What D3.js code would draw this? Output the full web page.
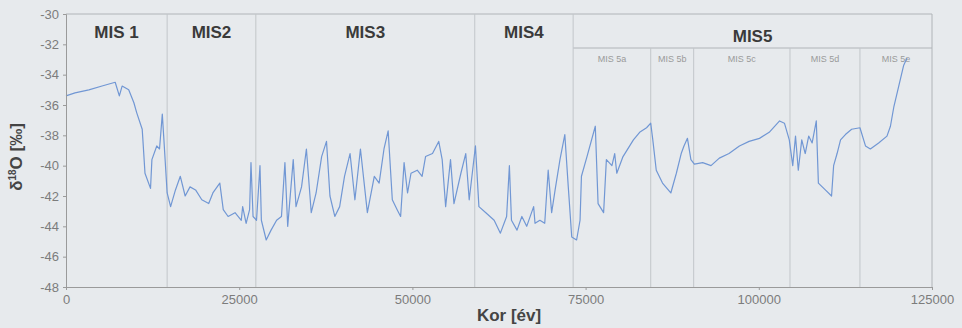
<!DOCTYPE html>
<html lang="hu">
<head>
  <meta charset="UTF-8">
  <title>NGRIP δ18O – MIS</title>
  <style>
    body {
      margin: 0;
      padding: 0;
      background-color: #e7eaed;
      font-family: "Liberation Sans", Arial, sans-serif;
    }

    .axis text {
      font-size: 13px;
      fill: #7c7c7c;
    }

    .axis line, .axis path {
      stroke: #9a9a9a;
    }

    .line {
      fill: none;
      stroke: #7197d4;
      stroke-width: 1.2px;
      stroke-linejoin: round;
    }

    .mis-line {
      stroke: #c2c6ca;
      stroke-width: 1px;
    }

    .mis-label {
      font-size: 17px;
      font-weight: bold;
      fill: #3a3a3a;
    }

    .mis-sub {
      font-size: 9px;
      fill: #9a9a9a;
    }

    .axis-label {
      font-size: 17px;
      font-weight: bold;
      fill: #444;
    }
  </style>
</head>
<body>
  <div class="chart"></div>

  <script src="https://d3js.org/d3.v7.min.js"></script>
  <script>
    // age (év) and d18O (permil)
    const ages = [0, 1300, 3300, 5200, 7100, 7700, 8100, 9050, 9800, 10200, 11000, 11100, 11400, 12200, 12400,
      13100, 13500, 13900, 14100, 14600, 15100, 15800, 16500, 17200, 17900, 18700, 19600, 20600, 21200, 22200,
      22700, 23400, 24400, 25300, 25500, 26000, 26500, 26700, 27000, 27500, 28000, 28200, 28900, 29600, 30400,
      31100, 31600, 32000, 32800, 33200, 34000, 34700, 35400, 36100, 36900, 37600, 38100, 38800, 39500, 40200,
      41000, 41700, 42500, 43500, 44500, 45200, 45900, 46500, 47100, 47800, 48300, 48800, 49300, 49800, 50700,
      51400, 51900, 52900, 53800, 54300, 54800, 55500, 56000, 57000, 57700, 58200, 59100, 59600, 60600, 61800,
      62700, 63600, 64000, 64300, 65100, 65800, 66500, 67500, 67700, 68400, 69100, 69600, 70100, 70600, 71300,
      72000, 72500, 73000, 73700, 74200, 74400, 75200, 76400, 76800, 77600, 78000, 78800, 79200, 79500, 80400,
      81900, 82800, 83800, 84400, 84700, 85200, 86100, 87300, 88100, 88800, 89200, 89700, 90200, 90700, 91900,
      93100, 94300, 95700, 97200, 98600, 100100, 101500, 103000, 103700, 104400, 104900, 105300, 105700, 106200,
      106700, 107200, 107700, 108300, 108600, 109600, 110500, 110800, 111300, 111800, 112500, 113400, 114600,
      115400, 116100, 117300, 118500, 119000, 119500, 120200, 120900, 121400];

    const d18O = [-35.4, -35.2, -35.0, -34.75, -34.5, -35.4, -34.75, -35.0, -35.85, -36.5, -37.6, -38.3, -40.5, -41.5, -39.6,
      -38.7, -38.9, -36.6, -38.05, -41.8, -42.7, -41.6, -40.7, -42.0, -41.4, -41.6, -42.25, -42.5, -41.8, -41.15,
      -42.9, -43.35, -43.1, -43.6, -42.7, -43.8, -42.9, -39.8, -43.35, -43.6, -40.0, -43.6, -44.9, -44.25, -43.6,
      -43.35, -39.8, -44.0, -39.6, -42.7, -41.4, -38.9, -43.1, -41.8, -39.4, -38.4, -42.0, -43.35, -42.7, -40.7,
      -39.2, -42.25, -38.9, -43.1, -40.7, -41.15, -38.9, -37.7, -42.25, -42.9, -43.35, -39.8, -41.8, -40.5, -40.3,
      -40.7, -39.4, -39.2, -38.4, -39.6, -42.7, -39.6, -42.5, -40.5, -39.2, -42.25, -38.7, -42.7, -43.1, -43.6,
      -44.45, -43.35, -40.0, -43.6, -44.25, -43.35, -44.0, -42.7, -43.8, -43.6, -43.8, -40.3, -43.1, -41.6, -39.6,
      -37.95, -41.4, -44.7, -44.9, -43.6, -40.7, -39.4, -37.4, -42.5, -43.1, -39.6, -40.0, -39.2, -40.5, -39.4,
      -38.3, -37.8, -37.5, -37.2, -38.3, -40.3, -41.15, -41.8, -40.5, -39.2, -38.7, -38.2, -39.6, -39.9, -39.8,
      -40.0, -39.5, -39.2, -38.7, -38.4, -38.2, -37.8, -37.05, -37.2, -38.3, -40.0, -38.05, -40.3, -38.3,
      -39.2, -38.05, -38.5, -37.05, -41.15, -41.6, -42.0, -40.0, -39.2, -38.3, -37.95, -37.6, -37.5,
      -38.7, -38.9, -38.5, -38.05, -37.4, -36.1, -34.75, -33.4, -32.9];

    // stage boundaries
    const misNames = ["MIS 1", "MIS2", "MIS3", "MIS4", "MIS5"];
    const misBounds = [0, 14600, 27400, 59000, 73200, 125000];
    const subNames = ["MIS 5a", "MIS 5b", "MIS 5c", "MIS 5d", "MIS 5e"];
    const subBounds = [73200, 84400, 90600, 104500, 114600, 125000];

    const xTicks = [0, 25000, 50000, 75000, 100000, 125000];
    const yTicks = [-30, -32, -34, -36, -38, -40, -42, -44, -46, -48];

    const W = 962, H = 328;
    const margin = { top: 14, right: 30, bottom: 41, left: 66 };
    const width = W - margin.left - margin.right;
    const height = H - margin.top - margin.bottom;

    const svg = d3.select(".chart")
      .append("svg")
        .attr("width", W)
        .attr("height", H)
      .append("g")
        .attr("transform", `translate(${margin.left},${margin.top})`);

    const data = ages.map((a, i) => ({ age: a, v: d18O[i] }));

    const x = d3.scaleLinear().domain([0, 125000]).range([0, width]);
    const y = d3.scaleLinear().domain([-48, -30]).range([height, 0]);

    // frame (top + right)
    svg.append("path")
      .attr("d", `M0,0H${width}V${height}`)
      .attr("fill", "none")
      .attr("stroke", "#b0b4b8");

    // MIS5 header box line
    const boxY = 34;
    svg.append("line")
      .attr("x1", x(misBounds[4])).attr("x2", width)
      .attr("y1", boxY).attr("y2", boxY)
      .attr("stroke", "#b0b4b8");

    // main stage boundaries
    svg.selectAll(".mis-v")
      .data(misBounds.slice(1, -1))
      .join("line")
        .attr("class", "mis-line")
        .attr("x1", d => x(d)).attr("x2", d => x(d))
        .attr("y1", 0).attr("y2", height);

    // MIS5 sub boundaries
    svg.selectAll(".sub-v")
      .data(subBounds.slice(1, -1))
      .join("line")
        .attr("class", "mis-line")
        .attr("x1", d => x(d)).attr("x2", d => x(d))
        .attr("y1", boxY).attr("y2", height);

    // labels
    svg.selectAll(".mis-label")
      .data(misNames)
      .join("text")
        .attr("class", "mis-label")
        .attr("text-anchor", "middle")
        .attr("x", (d, i) => x((misBounds[i] + misBounds[i + 1]) / 2))
        .attr("y", (d, i) => i === 4 ? 28 : 24)
        .text(d => d);

    svg.selectAll(".mis-sub")
      .data(subNames)
      .join("text")
        .attr("class", "mis-sub")
        .attr("text-anchor", "middle")
        .attr("x", (d, i) => x((subBounds[i] + subBounds[i + 1]) / 2))
        .attr("y", 48)
        .text(d => d);

    // curve
    const line = d3.line()
      .x(d => x(d.age))
      .y(d => y(d.v));

    svg.append("path")
      .datum(data)
      .attr("class", "line")
      .attr("d", line);

    // Axes
    svg.append("g")
      .attr("class", "axis")
      .attr("transform", `translate(0,${height})`)
      .call(d3.axisBottom(x).tickValues(xTicks).tickFormat(d => String(d)).tickSize(3).tickPadding(5));

    svg.append("g")
      .attr("class", "axis")
      .call(d3.axisLeft(y).tickValues(yTicks).tickFormat(d => String(d)).tickSize(3).tickPadding(4));

    // X Axis Label
    svg.append("text")
      .attr("class", "axis-label")
      .attr("text-anchor", "middle")
      .attr("x", width / 2 + 10)
      .attr("y", height + 34)
      .text("Kor [év]");

    // Y Axis Label
    const yl = svg.append("text")
      .attr("class", "axis-label")
      .attr("text-anchor", "middle")
      .attr("transform", "rotate(-90)")
      .attr("x", -143)
      .attr("y", -44);
    yl.append("tspan").text("δ");
    yl.append("tspan").attr("font-size", "10px").attr("dy", -6).text("18");
    yl.append("tspan").attr("dy", 6).text("O [‰]");
  </script>
</body>
</html>
